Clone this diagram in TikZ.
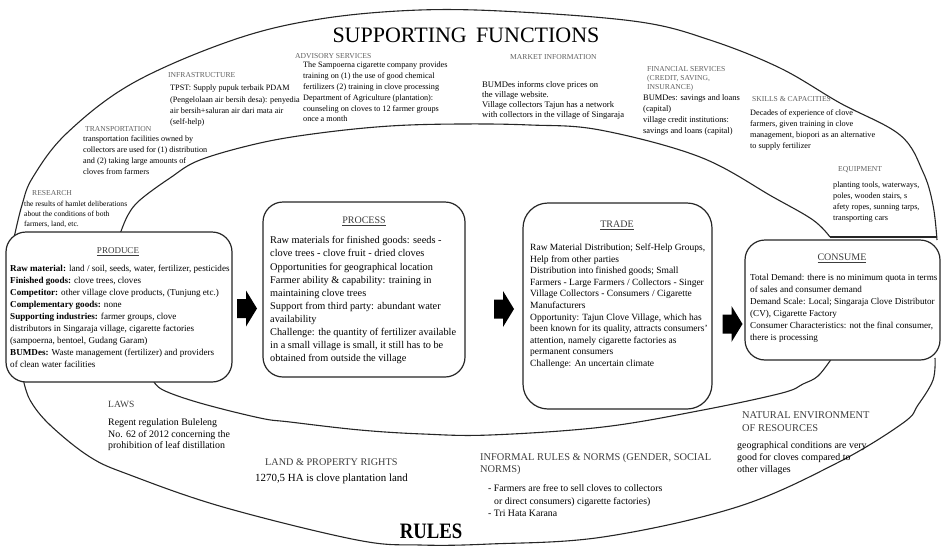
\documentclass[tikz,border=0pt]{standalone}
\usepackage{fontspec}
\setmainfont{Liberation Serif}
\definecolor{headgray}{RGB}{95,95,95}
\definecolor{inkgray}{RGB}{60,60,60}

\begin{document}
\begin{tikzpicture}[x=1pt, y=-1pt,
    band/.style={line width=1.1pt, black!85},
    box/.style={rectangle, rounded corners=20pt, draw=black!85, line width=1.2pt, fill=white, inner sep=0pt},
    flowarrow/.style={fill=black},
    head/.style={anchor=west, inner sep=0pt, text=headgray, font=\fontsize{7.6}{9}\selectfont},
    body/.style={anchor=north west, inner sep=0pt, align=left, font=\fontsize{8.2}{11}\selectfont},
    lowhead/.style={anchor=north west, inner sep=0pt, align=left, text=inkgray, font=\fontsize{10.2}{12.5}\selectfont},
    lowbody/.style={anchor=north west, inner sep=0pt, align=left, font=\fontsize{9.9}{11.7}\selectfont},
    boxhead/.style={inner sep=0pt, text=inkgray, font=\fontsize{10}{12}\selectfont},
    boxbody/.style={anchor=north west, inner sep=0pt, align=left, font=\fontsize{9.1}{12}\selectfont}]

\useasboundingbox (0,0) rectangle (943,549);

% the two bands
\draw[band] plot[smooth, tension=0.6] coordinates {(14,238) (22,205) (33,177) (67,133) (133,83) (233,40) (320,19) (420,10) (520,12) (640,22) (710,40) (780,68) (840,103) (900,135) (923,172) (933,205) (937,240)};
\draw[band] plot[smooth, tension=0.6] coordinates {(935,358) (933,380) (918,405) (903,423) (837,463) (737,507) (603,537) (490,544) (420,545) (357,540) (223,507) (130,475) (90,457) (50,425) (30,400) (23,378)};
\draw[band] plot[smooth, tension=0.6] coordinates {(120,234) (128,215) (140,200) (170,178) (200,160) (260,143) (320,133) (390,126) (460,124) (530,125) (600,130) (700,157) (773,197) (813,220) (830,237)};
\draw[band] plot[smooth, tension=0.6] coordinates {(832,358) (818,376) (803,384) (782,393) (703,410) (603,427) (490,435) (423,434) (360,430) (290,422) (260,418) (200,403) (163,390) (153,380)};
\coordinate (innerEnd) at (830,237);
\coordinate (outerEnd) at (937,237);
\draw[band] (innerEnd) -- (outerEnd);

\node[font=\fontsize{22}{24}\selectfont] (supTitle) at (466,35.5) {SUPPORTING\, FUNCTIONS};
\node[font=\fontsize{22}{24}\selectfont\bfseries] (rulesTitle) at (431,531) {\scalebox{0.85}[1]{RULES}};

% value chain boxes
\node[box, minimum width=226pt, minimum height=150pt] (produce) at (119,307) {};
\node[box, minimum width=202pt, minimum height=175pt] (process) at (364,289.5) {};
\node[box, rounded corners=25pt, minimum width=189pt, minimum height=206pt] (trade) at (617.5,306) {};
\node[box, minimum width=195pt, minimum height=120pt] (consume) at (842.5,300) {};

% block arrows between the boxes
\coordinate (arrowA) at (247,308.5);
\coordinate (arrowB) at (504,309);
\coordinate (arrowC) at (732.5,324);
\foreach \c in {arrowA, arrowB, arrowC}
  \fill[flowarrow] (\c) +(-10,-9.5) -- +(-1,-9.5) -- +(-1,-18) -- +(10,0) -- +(-1,18) -- +(-1,9.5) -- +(-10,9.5) -- cycle;

\node[boxhead, font=\fontsize{9}{11}\selectfont] (produceHead) at (118,252) {\underline{PRODUCE}};
\node[boxbody] (produceText) at (10,264.8) {\textbf{Raw material:} land / soil, seeds, water, fertilizer, pesticides\\
  \textbf{Finished goods:} clove trees, cloves\\
  \textbf{Competitor:} other village clove products, (Tunjung etc.)\\
  \textbf{Complementary goods:} none\\
  \textbf{Supporting industries:} farmer groups, clove\\
  distributors in Singaraja village, cigarette factories\\
  (sampoerna, bentoel, Gudang Garam)\\
  \textbf{BUMDes:} Waste management (fertilizer) and providers\\
  of clean water facilities};

\node[boxhead] (processHead) at (364,221) {\underline{PROCESS}};
\node[boxbody, font=\fontsize{10.3}{13.1}\selectfont] (processText) at (270,236.4) {Raw materials for finished goods: seeds -\\
  clove trees - clove fruit - dried cloves\\
  Opportunities for geographical location\\
  Farmer ability \& capability: training in\\
  maintaining clove trees\\
  Support from third party: abundant water\\
  availability\\
  Challenge: the quantity of fertilizer available\\
  in a small village is small, it still has to be\\
  obtained from outside the village};

\node[boxhead] (tradeHead) at (617,225) {\underline{TRADE}};
\node[boxbody, font=\fontsize{9.5}{11.6}\selectfont] (tradeText) at (530,243.7) {Raw Material Distribution; Self-Help Groups,\\
  Help from other parties\\
  Distribution into finished goods; Small\\
  Farmers - Large Farmers / Collectors - Singer\\
  Village Collectors - Consumers / Cigarette\\
  Manufacturers\\
  Opportunity: Tajun Clove Village, which has\\
  been known for its quality, attracts consumers'\\
  attention, namely cigarette factories as\\
  permanent consumers\\
  Challenge: An uncertain climate};

\node[boxhead] (consumeHead) at (842,258) {\underline{CONSUME}};
\node[boxbody] (consumeText) at (750,273.8) {Total Demand: there is no minimum quota in terms\\
  of sales and consumer demand\\
  Demand Scale: Local; Singaraja Clove Distributor\\
  (CV), Cigarette Factory\\
  Consumer Characteristics: not the final consumer,\\
  there is processing};

% supporting functions
\node[head] (infraHead) at (168,75) {INFRASTRUCTURE};
\node[body, font=\fontsize{8.2}{11.3}\selectfont] (infraText) at (170,85) {TPST: Supply pupuk terbaik PDAM\\
  (Pengelolaan air bersih desa): penyedia\\
  air bersih+saluran air dari mata air\\
  (self-help)};

\node[head] (advisoryHead) at (295,56) {ADVISORY SERVICES};
\node[body, font=\fontsize{8.2}{10.8}\selectfont] (advisoryText) at (303,62) {The Sampoerna cigarette company provides\\
  training on (1) the use of good chemical\\
  fertilizers (2) training in clove processing\\
  Department of Agriculture (plantation):\\
  counseling on cloves to 12 farmer groups\\
  once a month};

\node[head] (marketHead) at (510,57) {MARKET INFORMATION};
\node[body, font=\fontsize{8.6}{10}\selectfont] (marketText) at (482,81) {BUMDes informs clove prices on\\
  the village website.\\
  Village collectors Tajun has a network\\
  with collectors in the village of Singaraja};

\node[head, anchor=north west, align=left, font=\fontsize{7.6}{9}\selectfont] (financeHead) at (647,66.5) {FINANCIAL SERVICES\\
  (CREDIT, SAVING,\\
  INSURANCE)};
\node[body, font=\fontsize{8.4}{11.2}\selectfont] (financeText) at (643,94) {BUMDes: savings and loans\\
  (capital)\\
  village credit institutions:\\
  savings and loans (capital)};

\node[head] (skillsHead) at (752,99) {SKILLS \& CAPACITIES};
\node[body] (skillsText) at (750,110) {Decades of experience of clove\\
  farmers, given training in clove\\
  management, biopori as an alternative\\
  to supply fertilizer};

\node[head] (equipHead) at (838,170) {EQUIPMENT};
\node[body] (equipText) at (833,182) {planting tools, waterways,\\
  poles, wooden stairs, s\\
  afety ropes, sunning tarps,\\
  transporting cars};

\node[head] (transportHead) at (85,129) {TRANSPORTATION};
\node[body] (transportText) at (83,136) {transportation facilities owned by\\
  collectors are used for (1) distribution\\
  and (2) taking large amounts of\\
  cloves from farmers};

\node[head] (researchHead) at (32,193) {RESEARCH};
\node[body, font=\fontsize{7.6}{10}\selectfont] (researchText) at (24,200.5) {the results of hamlet deliberations\\
  about the conditions of both\\
  farmers, land, etc.};

% rules
\node[lowhead, font=\fontsize{9.5}{11}\selectfont] (lawsHead) at (108,401) {LAWS};
\node[lowbody, font=\fontsize{9.9}{11.5}\selectfont] (lawsText) at (108,418.5) {Regent regulation Buleleng\\
  No. 62 of 2012 concerning the\\
  prohibition of leaf distillation};

\node[lowhead] (landHead) at (265,458.5) {LAND \& PROPERTY RIGHTS};
\node[lowbody, anchor=west, font=\fontsize{10.9}{12}\selectfont] (landText) at (255,479) {1270,5 HA is clove plantation land};

\node[lowhead, font=\fontsize{10.4}{11.5}\selectfont] (informalHead) at (480,453.4) {INFORMAL RULES \& NORMS (GENDER, SOCIAL\\
  NORMS)};
\node[lowbody, font=\fontsize{9.8}{12.5}\selectfont] (informalText) at (488,484.5) {- Farmers are free to sell cloves to collectors\\
  \hspace*{6pt}or direct consumers) cigarette factories)\\
  - Tri Hata Karana};

\node[lowhead, font=\fontsize{10.4}{13}\selectfont] (naturalHead) at (742,411.4) {NATURAL ENVIRONMENT\\
  OF RESOURCES};
\node[lowbody, font=\fontsize{9.9}{12}\selectfont] (naturalText) at (737,441.5) {geographical conditions are very\\
  good for cloves compared to\\
  other villages};

\end{tikzpicture}
\end{document}
